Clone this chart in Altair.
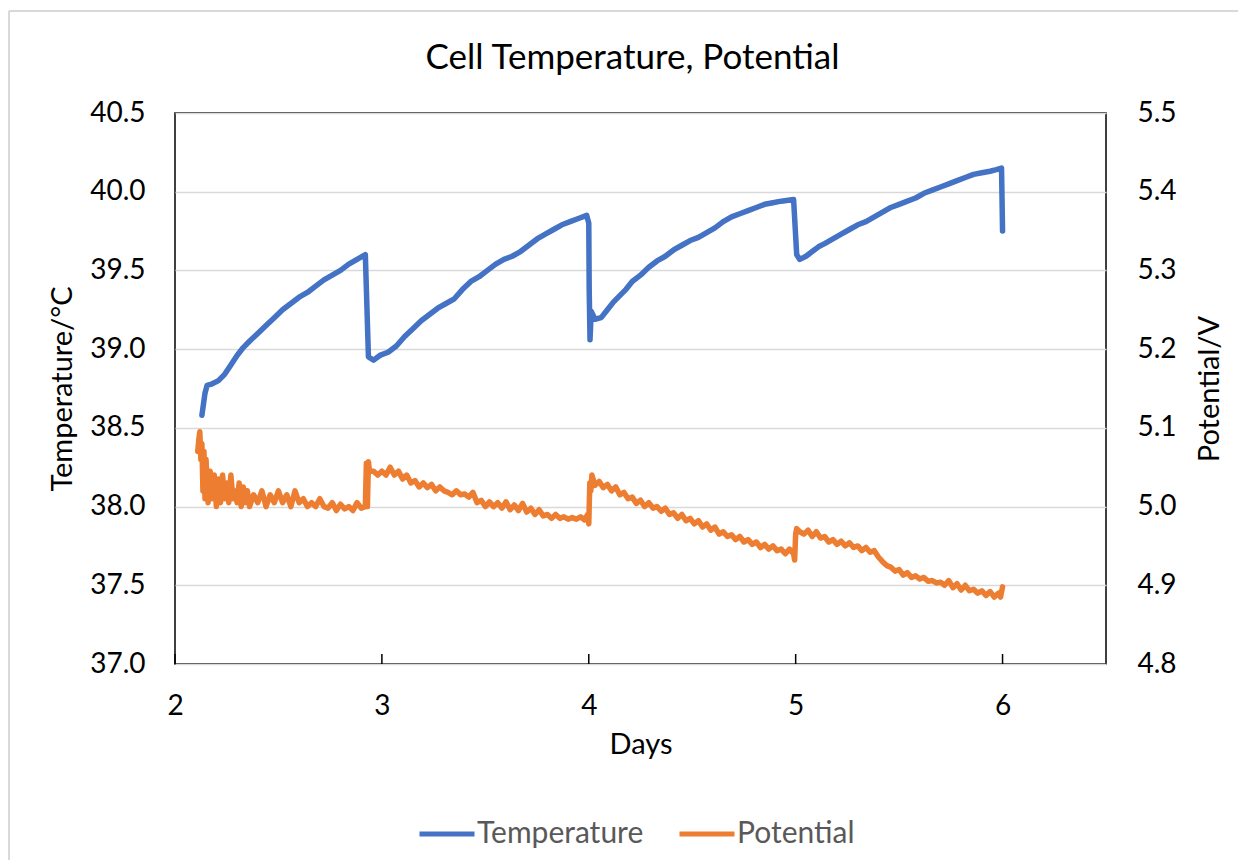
import altair as alt
import pandas as pd

# ---------------- data ----------------
temp_days = [2.13, 2.145, 2.155, 2.18, 2.21, 2.24, 2.27, 2.30, 2.33, 2.36, 2.40, 2.44, 2.48,
             2.52, 2.56, 2.60, 2.64, 2.68, 2.72, 2.76, 2.80, 2.84, 2.88, 2.92, 2.935, 2.96,
             2.99, 3.03, 3.07, 3.11, 3.15, 3.19, 3.23, 3.27, 3.31, 3.35, 3.39, 3.43, 3.47,
             3.51, 3.55, 3.59, 3.63, 3.67, 3.71, 3.75, 3.79, 3.83, 3.87, 3.91, 3.95, 3.99,
             4.00, 4.002, 4.006, 4.012, 4.03, 4.06, 4.09, 4.12, 4.15, 4.18, 4.21, 4.25, 4.29,
             4.33, 4.37, 4.41, 4.45, 4.49, 4.53, 4.57, 4.61, 4.65, 4.69, 4.73, 4.77, 4.81,
             4.85, 4.89, 4.93, 4.99, 5.005, 5.02, 5.05, 5.08, 5.11, 5.14, 5.18, 5.22, 5.26,
             5.30, 5.34, 5.38, 5.42, 5.46, 5.50, 5.54, 5.58, 5.62, 5.66, 5.70, 5.74, 5.78,
             5.82, 5.86, 5.90, 5.94, 5.97, 5.995, 6.00]
temp_vals = [38.58, 38.72, 38.77, 38.78, 38.80, 38.84, 38.90, 38.96, 39.01, 39.05, 39.10, 39.15,
             39.20, 39.25, 39.29, 39.33, 39.36, 39.40, 39.44, 39.47, 39.50, 39.54, 39.57, 39.60,
             38.95, 38.93, 38.96, 38.98, 39.02, 39.08, 39.13, 39.18, 39.22, 39.26, 39.29, 39.32,
             39.38, 39.43, 39.46, 39.50, 39.54, 39.57, 39.59, 39.62, 39.66, 39.70, 39.73, 39.76,
             39.79, 39.81, 39.83, 39.85, 39.80, 39.38, 39.06, 39.24, 39.19, 39.20, 39.25, 39.30,
             39.34, 39.38, 39.43, 39.47, 39.52, 39.56, 39.59, 39.63, 39.66, 39.69, 39.71, 39.74,
             39.77, 39.81, 39.84, 39.86, 39.88, 39.90, 39.92, 39.93, 39.94, 39.95, 39.60, 39.57,
             39.59, 39.62, 39.65, 39.67, 39.70, 39.73, 39.76, 39.79, 39.81, 39.84, 39.87, 39.90,
             39.92, 39.94, 39.96, 39.99, 40.01, 40.03, 40.05, 40.07, 40.09, 40.11, 40.12, 40.13,
             40.14, 40.15, 39.75]

pot_days = [2.110, 2.115, 2.12, 2.125, 2.13, 2.135, 2.14, 2.145, 2.15, 2.16, 2.17, 2.18, 2.19,
            2.20, 2.21, 2.22, 2.23, 2.24, 2.25, 2.26, 2.27, 2.28, 2.29, 2.30, 2.31, 2.32, 2.33,
            2.34, 2.35, 2.36, 2.38, 2.40, 2.42, 2.44, 2.46, 2.48, 2.50, 2.52, 2.54, 2.56, 2.58,
            2.60, 2.62, 2.64, 2.66, 2.68, 2.70, 2.72, 2.74, 2.76, 2.78, 2.80, 2.82, 2.84, 2.86,
            2.88, 2.90, 2.92, 2.925, 2.93, 2.935, 2.94, 2.96, 2.98, 3.00, 3.02, 3.04, 3.06, 3.08,
            3.10, 3.12, 3.14, 3.16, 3.18, 3.20, 3.22, 3.24, 3.26, 3.28, 3.30, 3.32, 3.34, 3.36,
            3.38, 3.40, 3.42, 3.44, 3.46, 3.48, 3.50, 3.52, 3.54, 3.56, 3.58, 3.60, 3.62, 3.64,
            3.66, 3.68, 3.70, 3.72, 3.74, 3.76, 3.78, 3.80, 3.82, 3.84, 3.86, 3.88, 3.90, 3.92,
            3.94, 3.96, 3.98, 3.995, 4.00, 4.005, 4.01, 4.015, 4.03, 4.05, 4.07, 4.09, 4.11, 4.13,
            4.15, 4.17, 4.19, 4.21, 4.23, 4.25, 4.27, 4.29, 4.31, 4.33, 4.35, 4.37, 4.39, 4.41,
            4.43, 4.45, 4.47, 4.49, 4.51, 4.53, 4.55, 4.57, 4.59, 4.61, 4.63, 4.65, 4.67, 4.69,
            4.71, 4.73, 4.75, 4.77, 4.79, 4.81, 4.83, 4.85, 4.87, 4.89, 4.91, 4.93, 4.95, 4.97,
            4.99, 4.995, 5.00, 5.005, 5.02, 5.04, 5.06, 5.08, 5.10, 5.12, 5.14, 5.16, 5.18, 5.20,
            5.22, 5.24, 5.26, 5.28, 5.30, 5.32, 5.34, 5.36, 5.38, 5.40, 5.42, 5.44, 5.46, 5.48,
            5.50, 5.52, 5.54, 5.56, 5.58, 5.60, 5.62, 5.64, 5.66, 5.68, 5.70, 5.72, 5.74, 5.76,
            5.78, 5.80, 5.82, 5.84, 5.86, 5.88, 5.90, 5.92, 5.94, 5.96, 5.98, 5.99, 6.00]
pot_vals = [5.07, 5.085, 5.095, 5.06, 5.08, 5.02, 5.07, 5.01, 5.06, 5.005, 5.045, 5.01, 5.04,
            5.0, 5.035, 5.005, 5.04, 5.01, 5.03, 5.005, 5.04, 5.01, 5.02, 5.005, 5.03, 5.0, 5.025,
            5.005, 5.02, 5.0, 5.015, 5.005, 5.02, 5.0, 5.015, 5.005, 5.02, 5.005, 5.015, 5.0, 5.02,
            5.005, 5.01, 5.0, 5.005, 5.0, 5.01, 5.0, 4.998, 5.005, 4.995, 5.003, 4.997, 5.0, 4.995,
            5.005, 4.998, 5.0, 5.055, 5.0, 5.057, 5.045, 5.045, 5.04, 5.045, 5.04, 5.05, 5.04, 5.045,
            5.035, 5.04, 5.03, 5.033, 5.025, 5.03, 5.024, 5.028, 5.02, 5.025, 5.02, 5.018, 5.015, 5.02,
            5.015, 5.016, 5.012, 5.018, 5.005, 5.008, 5.0, 5.006, 5.0, 5.005, 4.998, 5.006, 4.996, 5.002,
            4.995, 5.004, 4.993, 4.998, 4.99, 4.996, 4.988, 4.99, 4.985, 4.99, 4.985, 4.987, 4.984, 4.986,
            4.984, 4.987, 4.983, 4.99, 4.978, 5.03, 5.02, 5.04, 5.027, 5.032, 5.024, 5.028, 5.02, 5.025,
            5.015, 5.018, 5.01, 5.012, 5.004, 5.008, 5.0, 5.005, 4.998, 5.0, 4.994, 4.998, 4.99, 4.992,
            4.985, 4.99, 4.982, 4.985, 4.978, 4.982, 4.974, 4.978, 4.97, 4.974, 4.965, 4.968, 4.962, 4.964,
            4.958, 4.962, 4.955, 4.958, 4.952, 4.955, 4.948, 4.952, 4.946, 4.95, 4.944, 4.946, 4.94, 4.946,
            4.94, 4.932, 4.965, 4.972, 4.968, 4.965, 4.97, 4.962, 4.968, 4.96, 4.962, 4.955, 4.958, 4.952,
            4.956, 4.95, 4.954, 4.948, 4.95, 4.944, 4.948, 4.942, 4.944, 4.936, 4.93, 4.925, 4.923, 4.918,
            4.92, 4.913, 4.916, 4.91, 4.912, 4.908, 4.91, 4.905, 4.906, 4.903, 4.904, 4.9, 4.906, 4.897,
            4.902, 4.894, 4.9, 4.893, 4.895, 4.89, 4.893, 4.887, 4.892, 4.885, 4.89, 4.885, 4.898]

x_ticks = [2, 3, 4, 5, 6]
temp_ticks = [37.0, 37.5, 38.0, 38.5, 39.0, 39.5, 40.0, 40.5]
pot_ticks = [4.8, 4.9, 5.0, 5.1, 5.2, 5.3, 5.4, 5.5]
series_names = ["Temperature", "Potential"]
series_colors = ["#4472C4", "#ED7D31"]

temp_df = pd.DataFrame({"day": temp_days, "temp": temp_vals, "series": "Temperature"})
pot_df = pd.DataFrame({"day": pot_days, "pot": pot_vals, "series": "Potential"})
tick_df = pd.DataFrame({"day": x_ticks})

FONT = "Lato"
W, H = 931, 551
LW = 5.5

x_axis = alt.Axis(values=x_ticks, format="d", grid=False, title="Days",
                  labelPadding=28, titlePadding=10, labelFlush=False)
x_enc = alt.X("day:Q", scale=alt.Scale(domain=[2, 6.5], nice=False), axis=x_axis)

color_enc = alt.Color(
    "series:N",
    scale=alt.Scale(domain=series_names, range=series_colors),
    legend=alt.Legend(
        title=None, orient="none", direction="horizontal",
        legendX=242, legendY=691, symbolType="stroke", symbolSize=3025,
        symbolStrokeWidth=5, labelFontSize=30, labelFont=FONT, labelColor="#595959",
        labelOffset=0, columnPadding=25, labelLimit=400,
    ),
)

temp_line = alt.Chart(temp_df).mark_line(strokeWidth=LW, strokeCap="round", strokeJoin="round").encode(
    x=x_enc,
    y=alt.Y("temp:Q", scale=alt.Scale(domain=[37.0, 40.5], nice=False, zero=False),
            axis=alt.Axis(values=temp_ticks, format=".1f", title="Temperature/°C",
                          labelPadding=30, titlePadding=12, grid=True)),
    color=color_enc,
)

pot_line = alt.Chart(pot_df).mark_line(strokeWidth=LW, strokeCap="round", strokeJoin="round").encode(
    x=x_enc,
    y=alt.Y("pot:Q", scale=alt.Scale(domain=[4.8, 5.5], nice=False, zero=False),
            axis=alt.Axis(values=pot_ticks, format=".1f", title="Potential/V", orient="right",
                          labelPadding=31, titlePadding=19, grid=False,
                          titleAngle=270, titleBaseline="top")),
    color=color_enc,
)

x_tick_marks = alt.Chart(tick_df).mark_rule(color="black", strokeWidth=1.5).encode(
    x=x_enc, y=alt.value(H - 10), y2=alt.value(H)
)

# light grey outer chart-area frame (left and top edges)
frame_left = alt.Chart(tick_df).mark_rule(color="#d9d9d9", strokeWidth=2, clip=False).encode(
    x=alt.value(-166), y=alt.value(-102), y2=alt.value(H + 200)
)
frame_top = alt.Chart(tick_df).mark_rule(color="#d9d9d9", strokeWidth=2, clip=False).encode(
    x=alt.value(-166), x2=alt.value(W + 140), y=alt.value(-102)
)

chart = (
    alt.layer(frame_left, frame_top, temp_line, pot_line, x_tick_marks)
    .resolve_scale(y="independent")
    .properties(
        width=W, height=H,
        title=alt.TitleParams("Cell Temperature, Potential", font=FONT, fontSize=35,
                              fontWeight="normal", color="black", anchor="middle",
                              frame="group", offset=0, dx=-8, dy=66),
        padding={"left": 167, "top": 105, "right": 132, "bottom": 196},
        autosize=alt.AutoSizeParams(type="none"),
    )
    .configure_view(stroke="black", strokeWidth=1.5)
    .configure_axis(labelFont=FONT, titleFont=FONT, labelFontSize=28, titleFontSize=29,
                    labelColor="black", titleColor="black", titleFontWeight="normal",
                    domain=False, ticks=False, gridColor="#d9d9d9", gridWidth=1.5)
)

chart.save("out.html", embed_options={"renderer": "svg", "actions": False})
